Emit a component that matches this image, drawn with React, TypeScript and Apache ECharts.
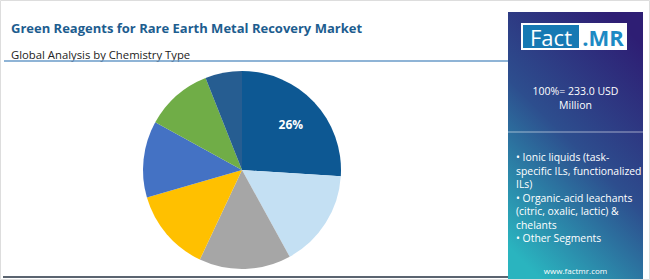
import React, { useEffect, useRef } from "react";
import * as echarts from "echarts";

const categories = [
  "Ionic liquids (task-specific ILs, functionalized ILs)",
  "Organic-acid leachants (citric, oxalic, lactic) & chelants",
  "Segment 3",
  "Segment 4",
  "Segment 5",
  "Segment 6",
  "Segment 7",
];
const shares = [26, 16, 15, 13.5, 12.5, 11, 6];
const sliceColors = ["#0d5893", "#c4e0f3", "#a6a6a6", "#ffc000", "#4472c4", "#70ad47", "#265d91"];
const titleText = "Green Reagents for Rare Earth Metal Recovery Market";
const subtitleText = "Global Analysis by Chemistry Type";
const totalLines = ["100%= 233.0 USD", "Million"];
const panelLines = [
  "• Ionic liquids (task-",
  "specific ILs, functionalized",
  "ILs)",
  "• Organic-acid leachants",
  "(citric, oxalic, lactic) &",
  "chelants",
  "• Other Segments",
];
const siteText = "www.factmr.com";

const FONT = "'Open Sans', 'Noto Sans', sans-serif";

export default function App() {
  const ref = useRef<HTMLDivElement>(null);
  useEffect(() => {
    document.body.style.margin = "0";
    if (!ref.current) return;
    const chart = echarts.init(ref.current, null, { renderer: "svg" });
    const data = categories.map((c, i) => ({ name: c, value: shares[i] }));
    const graphic: any[] = [
      { type: "rect", shape: { x: 0.5, y: 0.5, width: 649, height: 279 }, style: { fill: "none", stroke: "#dddddd", lineWidth: 1 }, z: 1 },
      { type: "text", x: 11, y: 28, style: { text: titleText, fill: "#1d5d8f", font: `bold 13px ${FONT}`, textVerticalAlign: "middle" } },
      { type: "text", x: 11, y: 54, style: { text: subtitleText, fill: "#222222", font: `11.3px ${FONT}`, textVerticalAlign: "middle" } },
      { type: "line", shape: { x1: 4, y1: 61, x2: 509, y2: 61 }, style: { stroke: "#6a9bc8", lineWidth: 1.5 } },
      { type: "line", shape: { x1: 3, y1: 277, x2: 509, y2: 277 }, style: { stroke: "#5a6470", lineWidth: 2 } },
      {
        type: "rect",
        shape: { x: 508, y: 12, width: 135, height: 268 },
        style: {
          fill: new echarts.graphic.LinearGradient(0.75, 0, 0.25, 1, [
            { offset: 0, color: "#2e1e74" },
            { offset: 0.5, color: "#2d4e8e" },
            { offset: 1, color: "#2ab4bf" },
          ]),
        },
      },
      { type: "rect", shape: { x: 521, y: 23, width: 106, height: 27 }, style: { fill: "#ffffff" } },
      { type: "rect", shape: { x: 523, y: 25, width: 56, height: 23 }, style: { fill: "#1679b3" } },
      { type: "text", x: 551, y: 37, style: { text: "Fact", fill: "#ffffff", font: `22px ${FONT}`, textAlign: "center", textVerticalAlign: "middle" } },
      { type: "text", x: 603, y: 37, style: { text: ".MR", fill: "#1d8ac4", font: `bold 22px ${FONT}`, textAlign: "center", textVerticalAlign: "middle" } },
      { type: "line", shape: { x1: 508, y1: 132, x2: 643, y2: 132 }, style: { stroke: "rgba(255,255,255,0.55)", lineWidth: 1 } },
      { type: "text", x: 575.5, y: 270.5, style: { text: siteText, fill: "#ffffff", font: `8px ${FONT}`, textAlign: "center", textVerticalAlign: "middle" } },
    ];
    totalLines.forEach((t, i) => {
      graphic.push({ type: "text", x: 575.5, y: 91 + i * 14, style: { text: t, fill: "#ffffff", font: `10.5px ${FONT}`, textAlign: "center", textVerticalAlign: "middle" } });
    });
    panelLines.forEach((t, i) => {
      graphic.push({ type: "text", x: 516, y: 157 + i * 13.5, style: { text: t, fill: "#ffffff", font: `10.4px ${FONT}`, textVerticalAlign: "middle" } });
    });
    chart.setOption({
      animation: false,
      color: sliceColors,
      series: [
        {
          type: "pie",
          center: [242, 170],
          radius: 99,
          startAngle: 90,
          clockwise: true,
          label: { show: false },
          labelLine: { show: false },
          silent: true,
          data,
        },
        {
          type: "pie",
          center: [242, 170],
          radius: 128,
          startAngle: 90,
          clockwise: true,
          silent: true,
          itemStyle: { color: "rgba(0,0,0,0)" },
          labelLine: { show: false },
          label: {
            show: true,
            position: "inside",
            color: "#ffffff",
            fontWeight: "bold",
            fontSize: 12,
            fontFamily: FONT,
            formatter: (p: any) => (p.dataIndex === 0 ? Math.round(p.percent) + "%" : ""),
          },
          data,
        },
      ],
      graphic,
    });
    return () => chart.dispose();
  }, []);
  return <div ref={ref} style={{ width: 650, height: 280 }} />;
}
